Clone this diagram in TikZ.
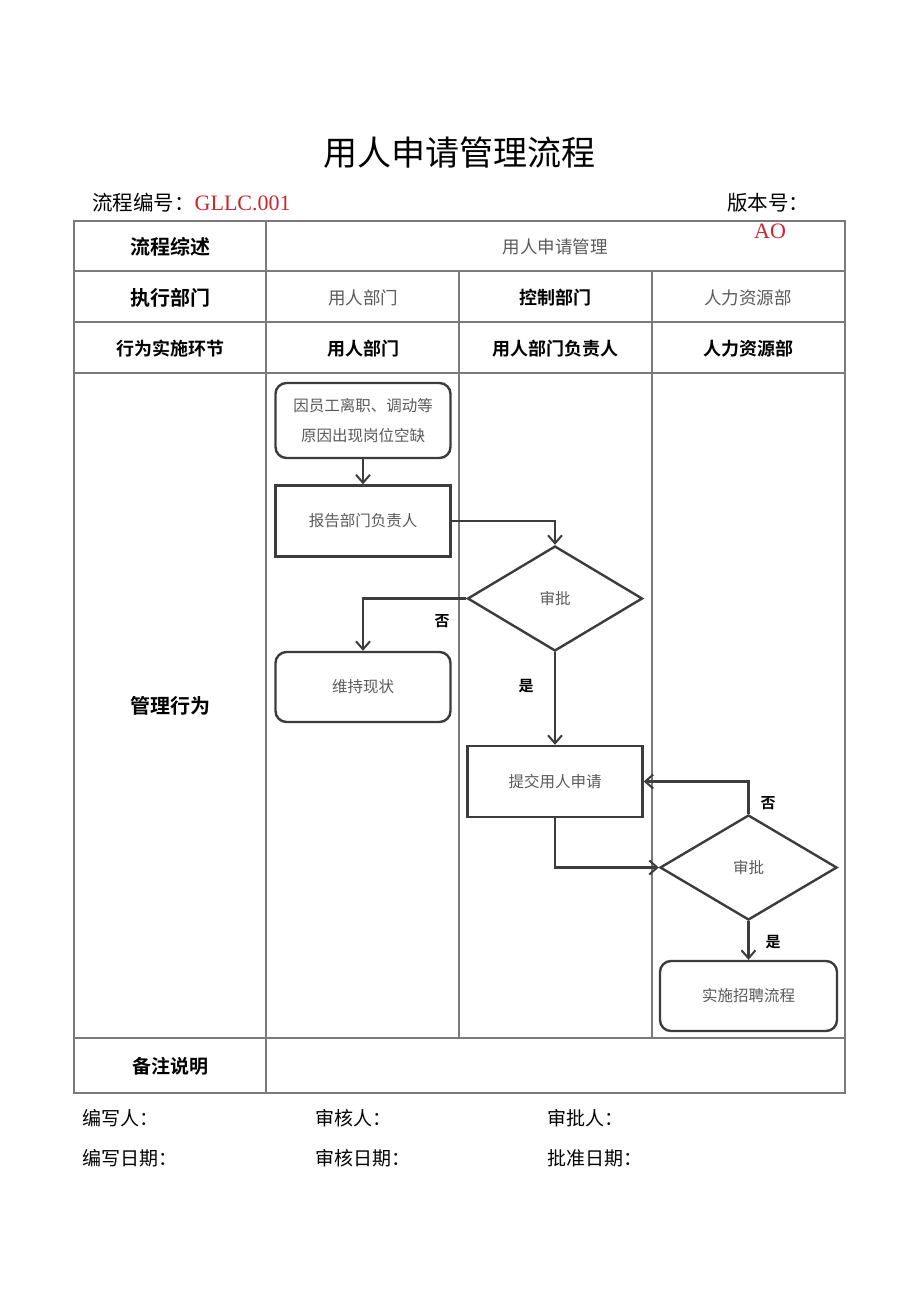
\documentclass[tikz,border=0pt]{standalone}
\usepackage{fontspec}
\newfontfamily\cjk{Noto Sans CJK SC}
\newfontfamily\cjkb{Noto Sans CJK SC Bold}
\newfontfamily\latserif{Liberation Serif}
\usetikzlibrary{shapes.geometric,arrows.meta}
\definecolor{tline}{HTML}{7A7A7A}
\definecolor{fline}{HTML}{3C3C3C}
\definecolor{ntext}{HTML}{5A5A5A}
\definecolor{redt}{HTML}{C8282D}
\tikzset{
  tbl/.style={draw=tline,line width=1.8pt},
  hdr/.style={font=\cjkb\fontsize{20}{24}\selectfont,text=black},
  hdrs/.style={font=\cjkb\fontsize{18}{22}\selectfont,text=black},
  cell/.style={font=\cjk\fontsize{17.5}{21}\selectfont,text=ntext},
  rbox/.style={draw=fline,line width=2.4pt,rounded corners=11pt,minimum width=175pt,minimum height=72pt,align=center,font=\cjk\fontsize{15.5}{30}\selectfont,text=ntext,inner sep=0pt},
  pbox/.style={draw=fline,line width=2.4pt,minimum width=175pt,minimum height=71pt,font=\cjk\fontsize{15.5}{19}\selectfont,text=ntext,inner sep=0pt},
  dec/.style={draw=fline,line width=2.4pt,diamond,aspect=1.66,minimum width=175pt,minimum height=105pt,font=\cjk\fontsize{15.5}{19}\selectfont,text=ntext,inner sep=0pt},
  flow/.style={draw=fline,line width=2.4pt,-{Straight Barb[length=8pt,width=14pt,line width=2pt]}},
  lbl/.style={font=\cjkb\fontsize{15}{18}\selectfont,text=black},
  foot/.style={font=\cjk\fontsize{19}{23}\selectfont,text=black,anchor=west,inner sep=0pt}
}
\begin{document}
\begin{tikzpicture}[x=1pt,y=-1pt]
\useasboundingbox[fill=white] (0,0) rectangle (920,1301);
% title
\node[font=\cjk\fontsize{34}{40}\selectfont] (title) at (459,153) {用人申请管理流程};
\node[foot,font=\cjk\fontsize{20.5}{24}\selectfont] (code) at (92,203) {流程编号：{\latserif\fontsize{22}{24}\selectfont\color{redt}GLLC.001}};
\node[foot,font=\cjk\fontsize{20.5}{24}\selectfont] (ver) at (727,203) {版本号：};
\node[font=\latserif\fontsize{22}{24}\selectfont,text=redt] (verv) at (770,231) {AO};
% table
\draw[tbl] (74,221) rectangle (845,1093);
\draw[tbl] (74,271) -- (845,271);
\draw[tbl] (74,322) -- (845,322);
\draw[tbl] (74,373) -- (845,373);
\draw[tbl] (74,1038) -- (845,1038);
\draw[tbl] (266,221) -- (266,1093);
\draw[tbl] (459,271) -- (459,1038);
\draw[tbl] (652,271) -- (652,1038);
% header texts
\node[hdr] (h1) at (170,247) {流程综述};
\node[cell] (h1v) at (555,247) {用人申请管理};
\node[hdr] (h2) at (170,298) {执行部门};
\node[cell] (h2a) at (363,298) {用人部门};
\node[hdrs] (h2b) at (555,298) {控制部门};
\node[cell] (h2c) at (748,298) {人力资源部};
\node[hdrs] (h3) at (170,349) {行为实施环节};
\node[hdrs] (h3a) at (363,349) {用人部门};
\node[hdrs] (h3b) at (555,349) {用人部门负责人};
\node[hdrs] (h3c) at (748,349) {人力资源部};
\node[hdr] (h4) at (170,706) {管理行为};
\node[hdr,font=\cjkb\fontsize{19}{23}\selectfont] (h5) at (170,1066) {备注说明};
% flow nodes
\node[rbox,minimum height=75pt] (n1) at (363,420.5) {因员工离职、调动等\\原因出现岗位空缺};
\node[pbox] (n2) at (363,521) {报告部门负责人};
\node[dec] (d1) at (555,598.5) {审批};
\node[rbox,minimum height=70pt] (n3) at (363,687) {维持现状};
\node[pbox] (n4) at (555,781.5) {提交用人申请};
\node[dec,minimum width=177pt] (d2) at (748.5,867.5) {审批};
\node[rbox,minimum width=177pt,minimum height=70pt] (n5) at (748.5,996) {实施招聘流程};
% connectors
\draw[flow] (n1) -- (n2);
\draw[flow] (n2.east) -| (d1.north);
\draw[flow] (d1.west) -| (n3.north);
\draw[flow] (d1.south) -- (n4.north);
\draw[flow] (n4.south) |- (d2.west);
\draw[flow] (d2.north) |- (n4.east);
\draw[flow] (d2.south) -- (n5.north);
% labels
\node[lbl] (l1) at (442,621) {否};
\node[lbl] (l2) at (526,686) {是};
\node[lbl] (l3) at (768,803) {否};
\node[lbl] (l4) at (773,942) {是};
% footer
\node[foot] (f1) at (82,1118) {编写人：};
\node[foot] (f2) at (315,1118) {审核人：};
\node[foot] (f3) at (547,1118) {审批人：};
\node[foot] (f4) at (82,1158) {编写日期：};
\node[foot] (f5) at (315,1158) {审核日期：};
\node[foot] (f6) at (547,1158) {批准日期：};
\end{tikzpicture}
\end{document}
